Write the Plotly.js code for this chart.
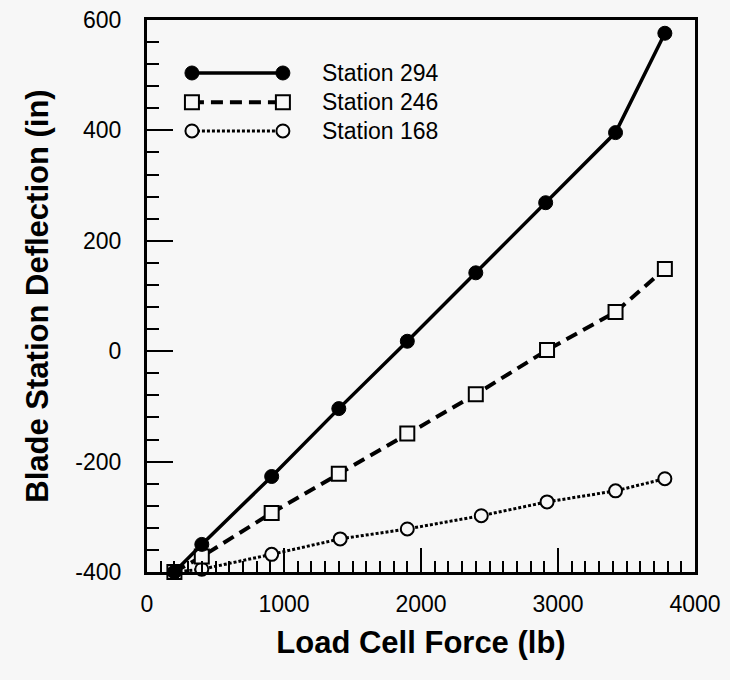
<!DOCTYPE html>
<html>
<head>
<meta charset="utf-8">
<script src="https://cdn.plot.ly/plotly-3.0.1.min.js"></script>
<style>html,body{margin:0;padding:0;background:#f7f7f7;}#chart{width:730px;height:680px;}</style>
</head>
<body>
<div id="chart"></div>
<script>
// Data
var force294 = [200, 400, 910, 1400, 1900, 2400, 2910, 3420, 3780];
var defl294  = [-400, -350, -227, -104, 18, 142, 269, 396, 576];
var force246 = [200, 400, 910, 1400, 1900, 2400, 2920, 3420, 3780];
var defl246  = [-400, -372, -293, -222, -149, -78, 2, 71, 149];
var force168 = [200, 400, 910, 1410, 1900, 2440, 2920, 3420, 3780];
var defl168  = [-400, -395, -368, -340, -322, -298, -273, -253, -231];
var seriesNames = ['Station 294', 'Station 246', 'Station 168'];
var xTickVals = [0, 1000, 2000, 3000, 4000];
var yTickVals = [-400, -200, 0, 200, 400, 600];

var styles = [
  {line: {color: '#000', width: 3.5, dash: 'solid'}, marker: {symbol: 'circle', size: 14, color: '#000', line: {color: '#000', width: 1}}},
  {line: {color: '#000', width: 4, dash: '12px,7px'}, marker: {symbol: 'square', size: 14, color: '#f7f7f7', line: {color: '#000', width: 2}}},
  {line: {color: '#000', width: 3, dash: '3px,2px'}, marker: {symbol: 'circle', size: 13, color: '#f7f7f7', line: {color: '#000', width: 2}}}
];
var xs = [force294, force246, force168];
var ys = [defl294, defl246, defl168];

var traces = [];
for (var i = 2; i >= 0; i--) {
  traces.push({
    x: xs[i], y: ys[i], type: 'scatter', mode: 'lines+markers', name: seriesNames[i],
    line: styles[i].line, marker: styles[i].marker, cliponaxis: false, showlegend: false
  });
}

// Legend samples drawn on an overlay axis (0..1 in both directions)
var legendX = [0.082, 0.248];
var legendRowY = [0.904, 0.851, 0.799];
var annotations = [];
for (var j = 0; j < 3; j++) {
  traces.push({
    x: legendX, y: [legendRowY[j], legendRowY[j]], xaxis: 'x2', yaxis: 'y2',
    type: 'scatter', mode: 'lines+markers', showlegend: false, hoverinfo: 'skip',
    line: styles[j].line, marker: styles[j].marker, cliponaxis: false
  });
  annotations.push({
    xref: 'x2', yref: 'y2', x: 0.316, y: legendRowY[j], text: seriesNames[j],
    showarrow: false, xanchor: 'left', yanchor: 'middle',
    font: {family: 'Liberation Sans, Arial, sans-serif', size: 23, color: '#000'}
  });
}

var layout = {
  width: 730, height: 680,
  paper_bgcolor: '#f7f7f7', plot_bgcolor: '#f7f7f7',
  margin: {l: 147, r: 35, t: 20, b: 108},
  showlegend: false,
  font: {family: 'Liberation Sans, Arial, sans-serif', color: '#000'},
  xaxis: {
    range: [0, 4000], tickvals: xTickVals, ticktext: xTickVals.map(String),
    ticks: 'inside', ticklen: 24, tickwidth: 2, tickcolor: '#000',
    minor: {dtick: 100, tick0: 0, ticks: 'inside', ticklen: 11, tickwidth: 2, tickcolor: '#000', showgrid: false},
    showline: true, linecolor: '#000', linewidth: 3, mirror: true,
    showgrid: false, zeroline: false,
    tickfont: {size: 23, color: '#000'}, ticklabelstandoff: 9,
    title: {text: '<b>Load Cell Force (lb)</b>', font: {size: 31, color: '#000'}, standoff: 16}
  },
  yaxis: {
    range: [-400, 600], tickvals: yTickVals, ticktext: yTickVals.map(String),
    ticks: 'inside', ticklen: 26, tickwidth: 2, tickcolor: '#000',
    minor: {dtick: 40, tick0: 0, ticks: 'inside', ticklen: 12, tickwidth: 2, tickcolor: '#000', showgrid: false},
    showline: true, linecolor: '#000', linewidth: 3, mirror: true,
    showgrid: false, zeroline: false,
    tickfont: {size: 23, color: '#000'}, ticklabelstandoff: 18,
    title: {text: '<b>Blade Station Deflection (in)</b>', font: {size: 31, color: '#000'}, standoff: 18}
  },
  xaxis2: {overlaying: 'x', range: [0, 1], visible: false, fixedrange: true},
  yaxis2: {overlaying: 'y', range: [0, 1], visible: false, fixedrange: true},
  annotations: annotations
};

Plotly.newPlot('chart', traces, layout, {displayModeBar: false, staticPlot: true});
</script>
</body>
</html>
